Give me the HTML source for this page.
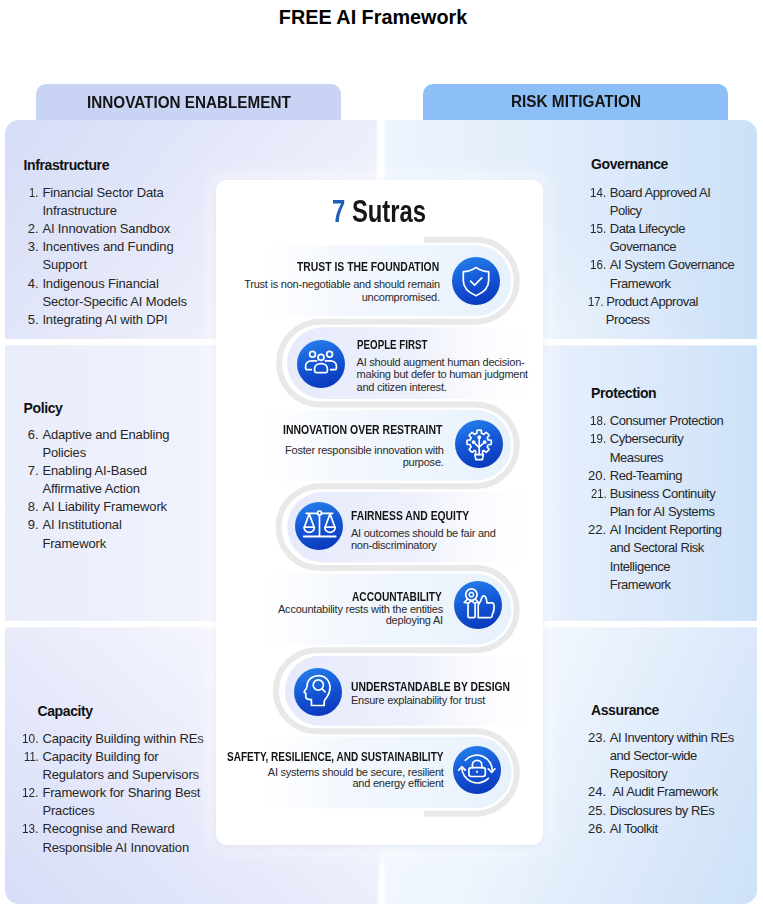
<!DOCTYPE html>
<html><head><meta charset="utf-8">
<style>
*{margin:0;padding:0;box-sizing:border-box}
html,body{width:763px;height:912px;overflow:hidden;background:#fff}
body{position:relative;font-family:"Liberation Sans",sans-serif;color:#2b2b2b}
#title{position:absolute;left:0;width:746px;top:6px;text-align:center;font-weight:bold;font-size:19.8px;line-height:22px;color:#000}
.tab{position:absolute;top:84px;height:40px;border-radius:10px 10px 0 0}
#tabL{left:36px;width:305px;background:#c9d4f4}
#tabR{left:423px;width:305px;background:#8bbff5}
.tt{position:absolute;font-size:16px;line-height:16px;font-weight:bold;color:#151515;white-space:nowrap;transform-origin:0 0}
.row{position:absolute}
#l1{left:5px;top:120px;width:376px;height:219px;border-radius:14px 0 0 0;background:linear-gradient(132deg,#d5dcf7 0%,#e3e7f9 40%,#f1f3fc 80%,#f6f7fd 100%)}
#l2{left:5px;top:345px;width:376px;height:276px;background:linear-gradient(to right,#e9ecfa 0%,#f1f3fc 55%,#f6f7fe 100%)}
#l3{left:5px;top:627px;width:376px;height:277px;border-radius:0 0 0 14px;background:linear-gradient(42deg,#d7ddf8 0%,#e6e9fa 40%,#f4f5fd 75%,#f8f9fe 100%)}
#r1{left:381px;top:120px;width:375.5px;height:219px;border-radius:0 14px 0 0;background:radial-gradient(ellipse 200px 120px at 40% 100%,rgba(255,255,255,0.35),rgba(255,255,255,0)),linear-gradient(to right,#edf4fd 0%,#e2edfb 43%,#d6e6fa 75%,#cbe0f8 100%)}
#r2{left:381px;top:345px;width:375.5px;height:276px;background:linear-gradient(to right,#eef5fd 0%,#e8f0fc 43%,#dae8fa 75%,#cde1f8 100%)}
#r3{left:381px;top:627px;width:375.5px;height:277px;border-radius:0 0 14px 0;background:linear-gradient(115deg,#f8fbff 0%,#eef5fd 40%,#dae8fa 75%,#cde1f8 100%)}
.gp{position:absolute;background:#fff;filter:blur(1px)}
.h{position:absolute;font-weight:bold;font-size:14px;line-height:14px;letter-spacing:-0.4px;color:#111;white-space:nowrap}
.l{position:absolute;font-size:13px;line-height:13px;letter-spacing:-0.15px;color:#262626;white-space:nowrap}
.l.r{letter-spacing:-0.45px}
.l.n{letter-spacing:0}
#card{position:absolute;left:216px;top:180px;width:327px;height:665px;background:#fff;border-radius:11px;box-shadow:0 2px 6px rgba(110,135,190,0.14),0 0 18px 6px rgba(255,255,255,0.55)}
#sut{position:absolute;font-size:31.5px;line-height:31.5px;font-weight:bold;color:#161616;white-space:nowrap;transform-origin:0 0}
#sut b{color:#1e5eb6}
.ch{position:absolute;font-weight:bold;font-size:12px;line-height:12px;color:#141414;white-space:nowrap;transform-origin:0 0}
.cd{position:absolute;font-size:11px;line-height:11px;letter-spacing:-0.23px;color:#2a2a2a;white-space:nowrap}
.ic{position:absolute}
#snake{position:absolute;left:0;top:0}

</style></head><body>
<div id="title">FREE AI Framework</div>
<div id="tabL" class="tab"></div>
<div id="tabR" class="tab"></div>
<div id="l1" class="row"></div><div id="l2" class="row"></div><div id="l3" class="row"></div>
<div id="r1" class="row"></div><div id="r2" class="row"></div><div id="r3" class="row"></div>
<div class="gp" style="left:3px;top:339.5px;width:756px;height:5px"></div><div class="gp" style="left:3px;top:621.5px;width:756px;height:5px"></div><div class="gp" style="left:376.5px;top:117px;width:8.5px;height:70px"></div><div class="gp" style="left:377.5px;top:840px;width:7px;height:70px;background:linear-gradient(to bottom,rgba(255,255,255,0) 0%,rgba(255,255,255,0.5) 30%,#fff 60%)"></div>
<div class="h" style="left:23.6px;top:157.8px">Infrastructure</div>
<div class="l n" style="left:29.17px;top:185.6px;transform:scaleX(0.860);transform-origin:0 0">1.</div>
<div class="l" style="left:42.4px;top:185.6px">Financial Sector Data</div>
<div class="l" style="left:42.4px;top:203.8px">Infrastructure</div>
<div class="l n" style="left:27.66px;top:222.0px;transform:scaleX(1.000);transform-origin:0 0">2.</div>
<div class="l" style="left:42.4px;top:222.0px">AI Innovation Sandbox</div>
<div class="l n" style="left:27.66px;top:240.1px;transform:scaleX(1.000);transform-origin:0 0">3.</div>
<div class="l" style="left:42.4px;top:240.1px">Incentives and Funding</div>
<div class="l" style="left:42.4px;top:258.3px">Support</div>
<div class="l n" style="left:27.66px;top:276.5px;transform:scaleX(1.000);transform-origin:0 0">4.</div>
<div class="l" style="left:42.4px;top:276.5px">Indigenous Financial</div>
<div class="l" style="left:42.4px;top:294.7px">Sector-Specific AI Models</div>
<div class="l n" style="left:27.66px;top:312.9px;transform:scaleX(1.000);transform-origin:0 0">5.</div>
<div class="l" style="left:42.4px;top:312.9px">Integrating AI with DPI</div>
<div class="h" style="left:23.6px;top:400.7px">Policy</div>
<div class="l n" style="left:27.66px;top:427.5px;transform:scaleX(1.000);transform-origin:0 0">6.</div>
<div class="l" style="left:42.4px;top:427.5px">Adaptive and Enabling</div>
<div class="l" style="left:42.4px;top:445.7px">Policies</div>
<div class="l n" style="left:27.66px;top:463.9px;transform:scaleX(1.000);transform-origin:0 0">7.</div>
<div class="l" style="left:42.4px;top:463.9px">Enabling AI-Based</div>
<div class="l" style="left:42.4px;top:482.0px">Affirmative Action</div>
<div class="l n" style="left:27.66px;top:500.2px;transform:scaleX(1.000);transform-origin:0 0">8.</div>
<div class="l" style="left:42.4px;top:500.2px">AI Liability Framework</div>
<div class="l n" style="left:27.66px;top:518.4px;transform:scaleX(1.000);transform-origin:0 0">9.</div>
<div class="l" style="left:42.4px;top:518.4px">AI Institutional</div>
<div class="l" style="left:42.4px;top:536.6px">Framework</div>
<div class="h" style="left:37.5px;top:704.1px">Capacity</div>
<div class="l n" style="left:22.04px;top:731.5px;transform:scaleX(0.910);transform-origin:0 0">10.</div>
<div class="l" style="left:42.4px;top:731.5px">Capacity Building within REs</div>
<div class="l n" style="left:23.79px;top:749.7px;transform:scaleX(0.860);transform-origin:0 0">11.</div>
<div class="l" style="left:42.4px;top:749.7px">Capacity Building for</div>
<div class="l" style="left:42.4px;top:767.9px">Regulators and Supervisors</div>
<div class="l n" style="left:22.04px;top:786.0px;transform:scaleX(0.910);transform-origin:0 0">12.</div>
<div class="l" style="left:42.4px;top:786.0px">Framework for Sharing Best</div>
<div class="l" style="left:42.4px;top:804.2px">Practices</div>
<div class="l n" style="left:22.04px;top:822.4px;transform:scaleX(0.910);transform-origin:0 0">13.</div>
<div class="l" style="left:42.4px;top:822.4px">Recognise and Reward</div>
<div class="l" style="left:42.4px;top:840.6px">Responsible AI Innovation</div>
<div class="h" style="left:591.0px;top:157.4px">Governance</div>
<div class="l r n" style="left:590.09px;top:185.7px;transform:scaleX(0.891);transform-origin:0 0">14.</div>
<div class="l r" style="left:609.7px;top:185.7px">Board Approved AI</div>
<div class="l r" style="left:609.7px;top:203.9px">Policy</div>
<div class="l r n" style="left:590.09px;top:222.1px;transform:scaleX(0.891);transform-origin:0 0">15.</div>
<div class="l r" style="left:609.7px;top:222.1px">Data Lifecycle</div>
<div class="l r" style="left:609.7px;top:240.2px">Governance</div>
<div class="l r n" style="left:590.09px;top:258.4px;transform:scaleX(0.891);transform-origin:0 0">16.</div>
<div class="l r" style="left:609.7px;top:258.4px">AI System Governance</div>
<div class="l r" style="left:609.7px;top:276.6px">Framework</div>
<div class="l r n" style="left:588.15px;top:294.8px;transform:scaleX(0.860);transform-origin:0 0">17.</div>
<div class="l r" style="left:606.2px;top:294.8px">Product Approval</div>
<div class="l r" style="left:605.8px;top:313.0px">Process</div>
<div class="h" style="left:591.0px;top:386.0px">Protection</div>
<div class="l r n" style="left:590.09px;top:414.1px;transform:scaleX(0.891);transform-origin:0 0">18.</div>
<div class="l r" style="left:609.7px;top:414.1px">Consumer Protection</div>
<div class="l r n" style="left:590.09px;top:432.3px;transform:scaleX(0.891);transform-origin:0 0">19.</div>
<div class="l r" style="left:609.7px;top:432.3px">Cybersecurity</div>
<div class="l r" style="left:609.7px;top:450.5px">Measures</div>
<div class="l r n" style="left:588.12px;top:468.6px;transform:scaleX(1.000);transform-origin:0 0">20.</div>
<div class="l r" style="left:609.7px;top:468.6px">Red-Teaming</div>
<div class="l r n" style="left:590.65px;top:486.8px;transform:scaleX(0.860);transform-origin:0 0">21.</div>
<div class="l r" style="left:609.7px;top:486.8px">Business Continuity</div>
<div class="l r" style="left:609.7px;top:505.0px">Plan for AI Systems</div>
<div class="l r n" style="left:588.12px;top:523.2px;transform:scaleX(1.000);transform-origin:0 0">22.</div>
<div class="l r" style="left:609.7px;top:523.2px">AI Incident Reporting</div>
<div class="l r" style="left:609.7px;top:541.4px">and Sectoral Risk</div>
<div class="l r" style="left:609.7px;top:559.5px">Intelligence</div>
<div class="l r" style="left:609.7px;top:577.7px">Framework</div>
<div class="h" style="left:591.0px;top:703.4px">Assurance</div>
<div class="l r n" style="left:588.12px;top:730.9px;transform:scaleX(1.000);transform-origin:0 0">23.</div>
<div class="l r" style="left:609.7px;top:730.9px">AI Inventory within REs</div>
<div class="l r" style="left:609.7px;top:749.1px">and Sector-wide</div>
<div class="l r" style="left:609.7px;top:767.3px">Repository</div>
<div class="l r n" style="left:588.12px;top:785.4px;transform:scaleX(1.000);transform-origin:0 0">24.</div>
<div class="l r" style="left:612.4px;top:785.4px">AI Audit Framework</div>
<div class="l r n" style="left:588.12px;top:803.6px;transform:scaleX(1.000);transform-origin:0 0">25.</div>
<div class="l r" style="left:609.7px;top:803.6px">Disclosures by REs</div>
<div class="l r n" style="left:588.12px;top:821.8px;transform:scaleX(1.000);transform-origin:0 0">26.</div>
<div class="l r" style="left:609.7px;top:821.8px">AI Toolkit</div>

<div id="card"></div>
<svg id="snake" width="763" height="912" viewBox="0 0 763 912">
<defs>
<filter id="bl" x="-5%" y="-5%" width="110%" height="110%"><feGaussianBlur stdDeviation="0.45"/></filter>
<linearGradient id="gR" x1="262" y1="0" x2="520" y2="0" gradientUnits="userSpaceOnUse"><stop offset="0" stop-color="#f3f8fe" stop-opacity="0"/><stop offset="0.3" stop-color="#f1f6fd" stop-opacity="0.8"/><stop offset="1" stop-color="#e6f1fc"/></linearGradient>
<linearGradient id="gL" x1="276" y1="0" x2="530" y2="0" gradientUnits="userSpaceOnUse"><stop offset="0" stop-color="#e5e9fb"/><stop offset="0.55" stop-color="#eef1fc"/><stop offset="1" stop-color="#f8f9fe" stop-opacity="0"/></linearGradient>
<linearGradient id="ig" x1="0.2" y1="0" x2="0.5" y2="1"><stop offset="0" stop-color="#2580ea"/><stop offset="0.5" stop-color="#1558d6"/><stop offset="1" stop-color="#0a3abd"/></linearGradient>
</defs>
<path d="M262 245.30 H475.8 A35.45 35.45 0 0 1 475.8 316.20 H262 Z" fill="url(#gR)"/>
<path d="M530 327.20 H323.0 A35.90 35.90 0 0 0 323.0 399.00 H530 Z" fill="url(#gL)"/>
<path d="M262 410.00 H475.8 A35.35 35.35 0 0 1 475.8 480.70 H262 Z" fill="url(#gR)"/>
<path d="M530 491.70 H322.6 A35.40 35.40 0 0 0 322.6 562.50 H530 Z" fill="url(#gL)"/>
<path d="M262 573.50 H475.8 A35.65 35.65 0 0 1 475.8 644.80 H262 Z" fill="url(#gR)"/>
<path d="M530 655.80 H319.9 A34.95 34.95 0 0 0 319.9 725.70 H530 Z" fill="url(#gL)"/>
<path d="M262 736.70 H475.8 A35.80 35.80 0 0 1 475.8 808.30 H262 Z" fill="url(#gR)"/>

<path d="M424 239.80 H475.8 A41.00 40.95 0 0 1 475.8 321.70 H320.0 A41.00 41.40 0 0 0 320.0 404.50 H475.8 A41.00 40.85 0 0 1 475.8 486.20 H319.6 A41.00 40.90 0 0 0 319.6 568.00 H475.8 A41.00 41.15 0 0 1 475.8 650.30 H316.9 A41.00 40.45 0 0 0 316.9 731.20 H475.8 A41.00 41.30 0 0 1 475.8 813.80 H424" fill="none" stroke="#e9e9e9" stroke-width="6" filter="url(#bl)"/>
</svg>
<svg class="ic" style="left:452.0px;top:257.2px" width="48" height="48" viewBox="0 0 48 48">
<circle cx="24" cy="24" r="24" fill="url(#ig)"/>
<g fill="none" stroke="#fff" stroke-width="1.7" stroke-linecap="round" stroke-linejoin="round"><path d="M24 10.4 C27.8 13.2 31.6 14.6 36.7 14.7 L36.7 23.5 C36.7 30.5 31 35.8 24 38.7 C17 35.8 11.3 30.5 11.3 23.5 L11.3 14.7 C16.4 14.6 20.2 13.2 24 10.4 Z"/>
<path d="M18.6 24.2 L22.6 28.2 L29.8 20.9"/></g></svg>
<svg class="ic" style="left:296.7px;top:339.5px" width="48" height="48" viewBox="0 0 48 48">
<circle cx="24" cy="24" r="24" fill="url(#ig)"/>
<g fill="none" stroke="#fff" stroke-width="1.7" stroke-linecap="round" stroke-linejoin="round"><circle cx="24" cy="17.3" r="3"/><circle cx="15.5" cy="14.3" r="2.9"/><circle cx="32.6" cy="14.3" r="2.9"/>
<path d="M17.6 31 V28.8 C17.6 25.6 20.4 23.6 24 23.6 C27.6 23.6 30.4 25.6 30.4 28.8 V31 Q30.4 32.6 28.8 32.6 H19.2 Q17.6 32.6 17.6 31 Z"/>
<path d="M19.6 20.8 H14.6 C11 20.8 8.6 23.2 8.6 26.2 V28.2 Q8.6 29.6 10 29.6 H14.4"/>
<path d="M28.4 20.8 H33.4 C37 20.8 39.4 23.2 39.4 26.2 V28.2 Q39.4 29.6 38 29.6 H33.6"/></g></svg>
<svg class="ic" style="left:455.3px;top:419.6px" width="48" height="48" viewBox="0 0 48 48">
<circle cx="24" cy="24" r="24" fill="url(#ig)"/>
<g fill="none" stroke="#fff" stroke-width="1.7" stroke-linecap="round" stroke-linejoin="round"><path d="M20.6 34.6 L20.6 31.1 A9.3 9.3 0 0 1 19.50 30.40 L17.15 32.34 A12.2 12.2 0 0 1 14.16 29.35 L16.10 27.00 A9.3 9.3 0 0 1 15.17 24.76 L12.14 24.47 A12.2 12.2 0 0 1 12.14 20.23 L15.17 19.94 A9.3 9.3 0 0 1 16.10 17.70 L14.16 15.35 A12.2 12.2 0 0 1 17.15 12.36 L19.50 14.30 A9.3 9.3 0 0 1 21.74 13.37 L22.03 10.34 A12.2 12.2 0 0 1 26.27 10.34 L26.56 13.37 A9.3 9.3 0 0 1 28.80 14.30 L31.15 12.36 A12.2 12.2 0 0 1 34.14 15.35 L32.20 17.70 A9.3 9.3 0 0 1 33.13 19.94 L36.16 20.23 A12.2 12.2 0 0 1 36.16 24.47 L33.13 24.76 A9.3 9.3 0 0 1 32.20 27.00 L34.14 29.35 A12.2 12.2 0 0 1 31.15 32.34 L28.80 30.40 A9.3 9.3 0 0 1 27.63 30.97 L27.7 34.6"/>
<path d="M19.9 34.6 H28.4 L27.4 39.6 H20.9 Z"/>
<path d="M24.2 34.4 V18.2"/><path d="M24.1 27.4 L18.8 22.3"/><path d="M24.2 26.8 L29.6 22.3"/>
<circle cx="24.2" cy="17.3" r="1.1" fill="#fff"/><circle cx="18.6" cy="22.1" r="1.1" fill="#fff"/><circle cx="29.7" cy="22.1" r="1.1" fill="#fff"/></g></svg>
<svg class="ic" style="left:295.2px;top:501.6px" width="48" height="48" viewBox="0 0 48 48">
<circle cx="24" cy="24" r="24" fill="url(#ig)"/>
<g fill="none" stroke="#fff" stroke-width="1.7" stroke-linecap="round" stroke-linejoin="round"><path d="M11.2 11.3 H22.5 M26.5 11.3 H37.7"/><circle cx="24.5" cy="11" r="2"/>
<path d="M24.5 13 V34.2"/><path d="M8.8 34.5 H40.6" stroke-width="2"/>
<path d="M14.2 11.9 L9.4 25 M14.2 11.9 L19 25 M9 25.2 H19.4 A5.2 5.2 0 0 1 9 25.2"/>
<path d="M35 11.9 L30.2 25 M35 11.9 L39.8 25 M29.8 25.2 H40.2 A5.2 5.2 0 0 1 29.8 25.2"/></g></svg>
<svg class="ic" style="left:454.4px;top:581.3px" width="48" height="48" viewBox="0 0 48 48">
<circle cx="24" cy="24" r="24" fill="url(#ig)"/>
<g fill="none" stroke="#fff" stroke-width="1.7" stroke-linecap="round" stroke-linejoin="round"><circle cx="17.4" cy="13.6" r="5.7"/><path d="M17.40 11.60 A1.15 1.15 0 0 1 19.13 12.60 A1.15 1.15 0 0 1 19.13 14.60 A1.15 1.15 0 0 1 17.40 15.60 A1.15 1.15 0 0 1 15.67 14.60 A1.15 1.15 0 0 1 15.67 12.60 A1.15 1.15 0 0 1 17.40 11.60 Z" stroke-width="1.4"/>
<path d="M13.6 17.9 L10.2 21.5 L13.9 22 M21.2 17.9 L24.4 21.5 L20.8 22"/>
<path d="M17.4 19.6 L14 22.6 V35.4 C14 36.2 14.5 36.7 15.3 36.7 H19.8 C20.6 36.7 21.1 36.2 21.1 35.4 V22.6 Z"/>
<path d="M24.2 36.7 V24.5 C24.2 23 25.5 21.8 26.4 20.6 L28 16.3 C28.6 14.6 30.6 14.4 31.5 16 C32.4 17.5 32.9 19.5 32.9 21.8 H38 C39.3 21.8 40 22.9 39.7 24.1 C40.5 24.8 40.4 26.1 39.6 26.8 C40.4 27.5 40.2 28.8 39.3 29.4 C40 30.3 39.7 31.6 38.7 32 L38 35.5 C37.7 36.3 37 36.7 36 36.7 Z"/></g></svg>
<svg class="ic" style="left:294.3px;top:668.2px" width="48" height="48" viewBox="0 0 48 48">
<circle cx="24" cy="24" r="24" fill="url(#ig)"/>
<g fill="none" stroke="#fff" stroke-width="1.7" stroke-linecap="round" stroke-linejoin="round"><path d="M17.5 37.5 H30.2 V33.6 C30.4 31.8 31.6 30.8 32.8 29.2 C34.8 26.6 36 23.4 36 19.6 C36 12.6 31 7.6 24.6 7.6 C18.6 7.6 14.2 11.4 13.3 15.6 L13 18.4 C12.8 19.7 12.3 20.5 11.8 21.3 L10.3 23.5 C9.9 24.2 10.3 24.8 11 25 L11.8 25.3 V28.6 C11.8 30.3 12.8 31.2 14.5 31.3 L17.4 31.6 Z"/>
<circle cx="24.3" cy="17" r="5.1"/><path d="M28.2 20.9 L31.1 23.9"/></g></svg>
<svg class="ic" style="left:453.0px;top:745.9px" width="48" height="48" viewBox="0 0 48 48">
<circle cx="24" cy="24" r="24" fill="url(#ig)"/>
<g fill="none" stroke="#fff" stroke-width="1.7" stroke-linecap="round" stroke-linejoin="round"><path d="M12.3 14.3 A15.5 15.5 0 0 1 39.3 25.6"/><path d="M35.3 22.8 L38.8 26.3 L42 22.8"/>
<path d="M8.9 21.4 A15.5 15.5 0 0 0 35.4 32.4"/><path d="M5.7 24.2 L8.9 20.6 L12.3 24.2"/>
<rect x="15.9" y="21.7" width="16.4" height="8.8" rx="2.4"/><path d="M19.4 21.7 V19 A4.7 4.7 0 0 1 28.8 19 V21.7"/>
<circle cx="24" cy="25.8" r="1.1" fill="#fff" stroke="none"/></g></svg>

<div class="ch" style="left:297.43px;top:260.8px;transform:scaleX(0.8644);">TRUST IS THE FOUNDATION</div>
<div class="ch" style="left:356.56px;top:338.5px;transform:scaleX(0.8142);">PEOPLE FIRST</div>
<div class="ch" style="left:282.53px;top:424.0px;transform:scaleX(0.8717);">INNOVATION OVER RESTRAINT</div>
<div class="ch" style="left:350.83px;top:510.1px;transform:scaleX(0.8636);">FAIRNESS AND EQUITY</div>
<div class="ch" style="left:352.14px;top:590.8px;transform:scaleX(0.8491);">ACCOUNTABILITY</div>
<div class="ch" style="left:350.84px;top:680.8px;transform:scaleX(0.8601);">UNDERSTANDABLE BY DESIGN</div>
<div class="ch" style="left:227.05px;top:750.5px;transform:scaleX(0.8369);">SAFETY, RESILIENCE, AND SUSTAINABILITY</div>
<div class="tt" style="left:86.51px;top:94.7px;transform:scaleX(0.9539);">INNOVATION ENABLEMENT</div>
<div class="tt" style="left:510.71px;top:94.2px;transform:scaleX(0.9578);">RISK MITIGATION</div>
<div id="sut" style="left:332.21px;top:195.6px;transform:scaleX(0.7568)"><b>7</b> Sutras</div>

<div class="cd" style="right:323.2px;top:279.0px">Trust is non-negotiable and should remain</div>
<div class="cd" style="right:323.2px;top:291.9px">uncompromised.</div>
<div class="cd" style="left:356.6px;top:356.9px">AI should augment human decision-</div>
<div class="cd" style="left:356.6px;top:369.3px">making but defer to human judgment</div>
<div class="cd" style="left:356.6px;top:381.8px">and citizen interest.</div>
<div class="cd" style="right:319.4px;top:444.5px">Foster responsible innovation with</div>
<div class="cd" style="right:319.4px;top:456.8px">purpose.</div>
<div class="cd" style="left:350.9px;top:527.6px">AI outcomes should be fair and</div>
<div class="cd" style="left:350.9px;top:540.1px">non-discriminatory</div>
<div class="cd" style="right:320.1px;top:603.6px">Accountability rests with the entities</div>
<div class="cd" style="right:320.1px;top:615.4px">deploying AI</div>
<div class="cd" style="left:350.9px;top:694.8px">Ensure explainability for trust</div>
<div class="cd" style="right:319.3px;top:766.6px">AI systems should be secure, resilient</div>
<div class="cd" style="right:319.3px;top:778.1px">and energy efficient</div>

</body></html>
